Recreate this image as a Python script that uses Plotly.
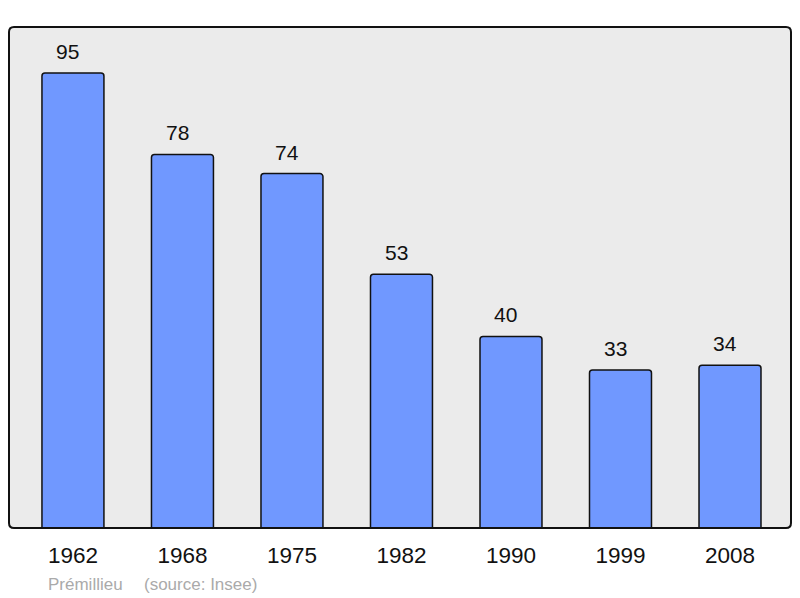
import plotly.graph_objects as go

years = ["1962", "1968", "1975", "1982", "1990", "1999", "2008"]
population = [95, 78, 74, 53, 40, 33, 34]

# page body has an 8px margin, so the figure is offset by (8, 8)
OFF = 8
W, H = 800 - OFF, 598 - OFF
L, R, T, B = 9 - OFF, 9, 27 - OFF, 70
FONT = "Liberation Sans, Arial"

fig = go.Figure()
fig.add_trace(go.Bar(
    x=list(range(len(years))), y=population,
    width=0.566,
    marker=dict(color="#7098ff", line=dict(color="#111111", width=1.5), cornerradius=3),
    hoverinfo="skip",
))

for i, v in enumerate(population):
    fig.add_annotation(x=i, y=v, text=str(v), showarrow=False, yanchor="bottom",
                       yshift=8, xshift=-5, font=dict(family=FONT, size=21, color="#111111"))

pw = W - L - R
ph = H - T - B
rx = 5 / pw
ry = 5 / ph
path = (f"M {rx},0 L {1-rx},0 Q 1,0 1,{ry} L 1,{1-ry} Q 1,1 {1-rx},1 "
        f"L {rx},1 Q 0,1 0,{1-ry} L 0,{ry} Q 0,0 {rx},0 Z")
fig.add_shape(type="path", xref="paper", yref="paper", path=path,
              line=dict(color="#111111", width=2), layer="above")

src_y = -(584 - 528) / ph
fig.add_annotation(xref="paper", yref="paper", x=(46 - 9) / pw, y=src_y,
                   text="Prémillieu", showarrow=False, xanchor="left", yanchor="middle",
                   font=dict(family=FONT, size=17, color="#aaaaaa"))
fig.add_annotation(xref="paper", yref="paper", x=(142 - 9) / pw, y=src_y,
                   text="(source: Insee)", showarrow=False, xanchor="left", yanchor="middle",
                   font=dict(family=FONT, size=17, color="#aaaaaa"))

fig.update_layout(
    width=W, height=H,
    margin=dict(l=L, r=R, t=T, b=B),
    paper_bgcolor="white", plot_bgcolor="#ebebeb",
    showlegend=False,
    xaxis=dict(range=[-0.584, 6.557], tickmode="array", tickvals=list(range(len(years))),
               ticktext=years, showgrid=False, zeroline=False, ticks="", ticklabelstandoff=11,
               tickfont=dict(family=FONT, size=22.5, color="#111111")),
    yaxis=dict(range=[0, 104.6], showgrid=False, zeroline=False, showticklabels=False),
)

fig.write_html("out.html")
